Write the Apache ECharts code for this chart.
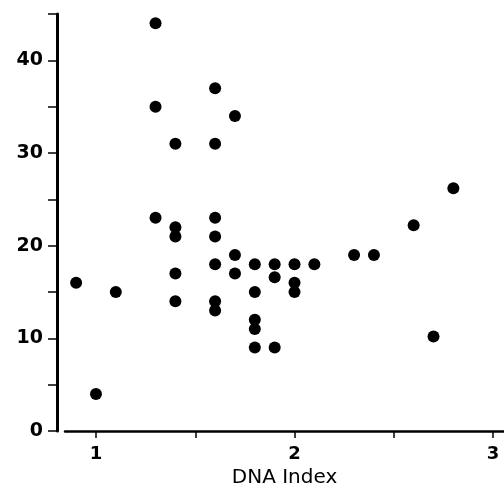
<!DOCTYPE html>
<html>
<head>
<meta charset="utf-8">
<script src="https://cdn.jsdelivr.net/npm/echarts@6/dist/echarts.min.js"></script>
<style>
html,body{margin:0;padding:0;background:#fff;}
#chart{width:504px;height:489px;}
</style>
</head>
<body>
<div id="chart"></div>
<script>
const dnaIndex = [0.9, 1.0, 1.1,
  1.3, 1.3, 1.3,
  1.4, 1.4, 1.4, 1.4, 1.4,
  1.6, 1.6, 1.6, 1.6, 1.6, 1.6, 1.6,
  1.7, 1.7, 1.7,
  1.8, 1.8, 1.8, 1.8, 1.8,
  1.9, 1.9, 1.9,
  2.0, 2.0, 2.0,
  2.1, 2.3, 2.4, 2.6, 2.7, 2.8];
const yValues = [16, 4, 15,
  44, 35, 23,
  31, 22, 21, 17, 14,
  37, 31, 23, 21, 18, 14, 13,
  34, 19, 17,
  18, 15, 12, 11, 9,
  18, 16.6, 9,
  18, 16, 15,
  18, 19, 19, 22.2, 10.2, 26.2];
const xTickLabels = [1, 2, 3];
const xTicks = [1, 1.5, 2, 2.5, 3];
const yLabelStep = 10;

const points = dnaIndex.map((x, i) => [x, yValues[i]]);

const chart = echarts.init(document.getElementById('chart'), null, {renderer: 'canvas'});
chart.setOption({
  backgroundColor: '#ffffff',
  animation: false,
  grid: {left: 65, right: 0, top: 14, bottom: 58, containLabel: false, outerBoundsMode: 'none'},
  xAxis: {
    type: 'value',
    min: 0.844,
    max: 3.055,
    name: 'DNA Index',
    nameLocation: 'middle',
    nameGap: 37,
    nameTextStyle: {color: '#000', fontSize: 20, fontFamily: 'DejaVu Sans'},
    axisLine: {show: true, lineStyle: {color: '#000', width: 2.5}},
    axisTick: {show: true, inside: false, length: 7, customValues: xTicks, lineStyle: {color: '#000', width: 1.5}},
    axisLabel: {customValues: xTickLabels, margin: 14, color: '#000', fontSize: 18, fontWeight: 'bold', fontFamily: 'DejaVu Sans'},
    splitLine: {show: false}
  },
  yAxis: {
    type: 'value',
    min: 0,
    max: 45,
    interval: 5,
    offset: 8,
    axisLine: {show: true, lineStyle: {color: '#000', width: 3}},
    axisTick: {show: true, inside: false, length: 9, lineStyle: {color: '#000', width: 1.5}},
    axisLabel: {
      margin: 14,
      color: '#000', fontSize: 19, fontWeight: 'bold', fontFamily: 'DejaVu Sans',
      formatter: v => (v % yLabelStep === 0 ? String(v) : '')
    },
    splitLine: {show: false}
  },
  series: [{
    type: 'scatter',
    data: points,
    symbol: 'circle',
    symbolSize: 12,
    itemStyle: {color: '#000', opacity: 1}
  }]
});
</script>
</body>
</html>
